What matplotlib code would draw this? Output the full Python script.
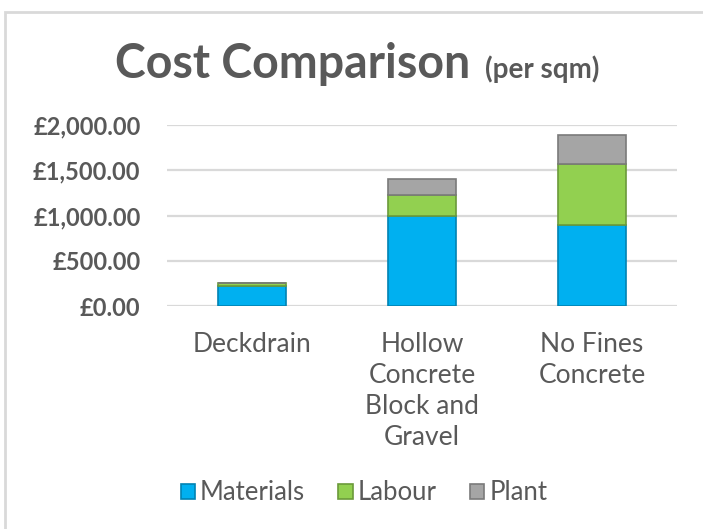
import matplotlib.pyplot as plt
from matplotlib.patches import Patch, Rectangle
from matplotlib.ticker import FuncFormatter

categories = ['Deckdrain', 'Hollow\nConcrete\nBlock and\nGravel', 'No Fines\nConcrete']
materials = [220, 1000, 890]
labour = [30, 225, 675]
plant = [0, 175, 325]
series_names = ['Materials', 'Labour', 'Plant']
y_ticks = [0, 500, 1000, 1500, 2000]

TEXT = '#595959'
GRID = '#D9D9D9'
colors = ['#00B0F0', '#92D050', '#A5A5A5']
edges = ['#0083B3', '#6B9A3A', '#7A7A7A']

plt.rcParams['font.family'] = ['Lato', 'DejaVu Sans']

fig = plt.figure(figsize=(7.03, 5.29), dpi=100)
ax = fig.add_axes([167 / 703, 1 - 306 / 529, 510 / 703, 181 / 529])

x = list(range(len(categories)))
bottom = [0] * len(categories)
for vals, c, e in zip([materials, labour, plant], colors, edges):
    ax.bar(x, vals, width=0.4, bottom=bottom, color=c, edgecolor=e,
           linewidth=1.2, zorder=3)
    bottom = [b + v for b, v in zip(bottom, vals)]

ax.set_xlim(-0.5, 2.5)
ax.set_ylim(0, 2000)
ax.set_yticks(y_ticks)
ax.yaxis.set_major_formatter(FuncFormatter(lambda v, p: '£{:,.2f}'.format(v)))
ax.grid(axis='y', color=GRID, linewidth=1.6, zorder=0)
for s in ['top', 'right', 'left', 'bottom']:
    ax.spines[s].set_visible(False)
ax.tick_params(axis='y', length=0, pad=19, labelsize=17, labelcolor=TEXT)
ax.tick_params(axis='x', length=0, pad=19, labelsize=19, labelcolor=TEXT)
for lab in ax.get_yticklabels():
    lab.set_fontweight('bold')
ax.set_xticks(x)
ax.set_xticklabels(categories, linespacing=1.3, va='top')

fig.text(115 / 703, 1 - 78 / 529, 'Cost Comparison', fontsize=33.5,
         fontweight='bold', color=TEXT, ha='left', va='baseline')
fig.text(485 / 703, 1 - 78 / 529, '(per sqm)', fontsize=20,
         fontweight='bold', color=TEXT, ha='left', va='baseline')

handles = [Patch(facecolor=c, edgecolor=e, linewidth=1.2) for c, e in zip(colors, edges)]
fig.legend(handles, series_names, loc='center', bbox_to_anchor=(364 / 703, 1 - 493 / 529),
           ncol=3, frameon=False, fontsize=18.5, labelcolor=TEXT,
           handlelength=0.55, handleheight=0.55, handletextpad=0.2, columnspacing=1.3)

fig.patches.append(Rectangle((5 / 703, -0.1), 1.2, 1.1 - 12 / 529, transform=fig.transFigure,
                             fill=False, edgecolor=GRID, linewidth=2))

fig.savefig('out.png', dpi=100)
